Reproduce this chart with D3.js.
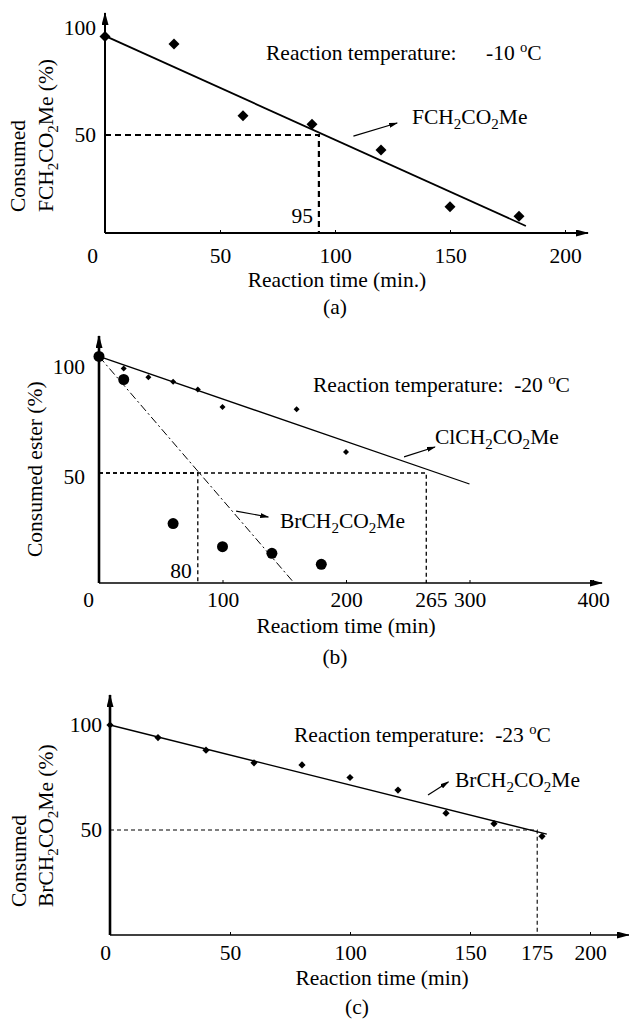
<!DOCTYPE html>
<html>
<head>
<meta charset="utf-8">
<script src="https://cdn.jsdelivr.net/npm/d3@7"></script>
<style>
  body { margin: 0; background: #fff; }
  svg text { font-family: 'Liberation Serif', 'Times New Roman', serif; fill: #000; white-space: pre; }
</style>
</head>
<body>
<svg id="chart" width="629" height="1024"></svg>
<script>
// (a) FCH2CO2Me at -10 C
const fTime = [0, 30, 60, 90, 120, 150, 180]
const fConsumed = [96, 92.5, 59, 55, 43, 16.5, 12]
const fFitTime = [0, 183]
const fFitValue = [96.3, 7.5]
const fHalfTime = 93
const fHalfLabel = '95'
const aTicksX = [0, 50, 100, 150, 200]
const aTicksY = [50, 100]

// (b) ClCH2CO2Me and BrCH2CO2Me at -20 C
const clTime = [0, 20, 40, 60, 80, 100, 160, 200]
const clConsumed = [103, 97.5, 93.5, 91.5, 88, 80, 79, 59.5]
const brTime = [0, 20, 60, 100, 140, 180]
const brConsumed = [103, 92.5, 27, 16.5, 13.5, 8.5]
const clFitTime = [0, 300]
const clFitValue = [103, 45]
const brFitTime = [0, 158]
const brFitValue = [103, 0]
const bHalfTimes = [80, 265]
const bTicksX = [0, 100, 200, 300, 400]
const bTicksY = [50, 100]

// (c) BrCH2CO2Me at -23 C
const cTime = [0, 20, 40, 60, 80, 100, 120, 140, 160, 180]
const cConsumed = [100, 94, 88, 82, 81, 75, 69, 58, 53, 47]
const cFitTime = [0, 182]
const cFitValue = [100, 48]
const cHalfTime = 178
const cHalfLabel = '175'
const cTicksX = [0, 50, 100, 150, 200]
const cTicksY = [50, 100]

const FS = 21.5
let svg = d3.select('#chart')
let defs = svg.append('defs')

function marker (id, w, h) {
  defs.append('marker')
    .attr('id', id)
    .attr('viewBox', `0 0 ${w} ${h}`)
    .attr('refX', w - 1).attr('refY', h / 2)
    .attr('markerWidth', w).attr('markerHeight', h)
    .attr('markerUnits', 'userSpaceOnUse')
    .attr('orient', 'auto')
    .append('path')
    .attr('d', `M0,0L${w},${h / 2}L0,${h}Z`)
    .attr('fill', '#000')
}
marker('axisHead', 13, 7)
marker('noteHead', 9, 5)

// square diamond, d3's own one is too tall
const diamond = {
  draw (ctx, size) {
    let r = Math.sqrt(size / 2)
    ctx.moveTo(0, -r)
    ctx.lineTo(r, 0)
    ctx.lineTo(0, r)
    ctx.lineTo(-r, 0)
    ctx.closePath()
  }
}

// text with _2 subscripts and ^o superscripts
function rich (text, str, size) {
  size = size || FS
  let shift = 0
  str.split(/(_\d|\^o)/).forEach(function (s) {
    if (!s) return
    if (s[0] === '_') {
      text.append('tspan').attr('dy', shift + 5).attr('font-size', size * 0.7).text(s[1])
      shift = -5
    } else if (s[0] === '^') {
      text.append('tspan').attr('dy', shift - 8).attr('font-size', size * 0.68).text(s[1])
      shift = 8
    } else {
      text.append('tspan').attr('dy', shift).text(s)
      shift = 0
    }
  })
  return text
}

function label (g, x, y, str, anchor) {
  let t = g.append('text')
    .attr('x', x).attr('y', y)
    .attr('font-size', FS)
    .attr('text-anchor', anchor || 'start')
  return rich(t, str)
}

function yLabel (g, x, y, str) {
  let t = g.append('text')
    .attr('transform', `translate(${x},${y}) rotate(-90)`)
    .attr('font-size', FS)
  return rich(t, str)
}

function axes (g, p) {
  let x0 = p.x(0)
  g.append('g')
    .attr('transform', `translate(0,${p.axisY})`)
    .call(d3.axisBottom(p.x).tickValues(p.ticksX).tickSizeInner(-3).tickSizeOuter(0))
    .call(a => a.select('.domain').remove())
    .call(a => a.selectAll('.tick line').attr('stroke-width', 1))
    .call(a => a.selectAll('.tick text')
      .attr('dy', null).attr('y', p.tickY)
      .attr('dx', d => d === 0 ? p.zeroDx : 0)
      .attr('font-size', FS).attr('font-family', null))

  g.append('g')
    .attr('transform', `translate(${x0},${p.yLabDy})`)
    .call(d3.axisLeft(p.y).tickValues(p.ticksY).tickSize(0).tickPadding(p.yPad))
    .call(a => a.select('.domain').remove())
    .call(a => a.selectAll('.tick text').attr('dy', '0.32em')
      .attr('font-size', FS).attr('font-family', null))

  g.append('line')
    .attr('x1', x0).attr('y1', p.axisY).attr('x2', p.xEnd).attr('y2', p.axisY)
    .attr('stroke', '#000').attr('stroke-width', p.xw)
    .attr('marker-end', 'url(#axisHead)')
  g.append('line')
    .attr('x1', x0).attr('y1', p.axisY).attr('x2', x0).attr('y2', p.yTop)
    .attr('stroke', '#000').attr('stroke-width', p.yw)
    .attr('marker-end', 'url(#axisHead)')
}

function fitLine (g, p, ts, vs, width, dash) {
  let line = d3.line().x(d => p.x(d[0])).y(d => p.y(d[1]))
  g.append('path')
    .attr('d', line(d3.zip(ts, vs)))
    .attr('fill', 'none').attr('stroke', '#000')
    .attr('stroke-width', width)
    .attr('stroke-dasharray', dash || null)
}

function guide (g, p, t, width, dash) {
  let line = d3.line()
  let pts = [[p.x(0), p.y(50)], [p.x(t), p.y(50)], [p.x(t), p.axisY]]
  g.append('path')
    .attr('d', line(pts))
    .attr('fill', 'none').attr('stroke', '#000')
    .attr('stroke-width', width).attr('stroke-dasharray', dash)
}

function points (g, p, ts, vs, type, size) {
  g.selectAll(null)
    .data(d3.zip(ts, vs))
    .enter().append('path')
    .attr('transform', d => `translate(${p.x(d[0])},${p.y(d[1])})`)
    .attr('d', d3.symbol(type, size))
    .attr('fill', '#000')
}

function note (g, p, from, to) {
  g.append('line')
    .attr('x1', p.x(from[0])).attr('y1', p.y(from[1]))
    .attr('x2', p.x(to[0])).attr('y2', p.y(to[1]))
    .attr('stroke', '#000').attr('stroke-width', 1.2)
    .attr('marker-end', 'url(#noteHead)')
}

// ---- (a)
let pa = {
  x: d3.scaleLinear().domain([0, 200]).range([105, 565]),
  y: d3.scaleLinear().domain([50, 100]).range([135, 28]),
  axisY: 233, xEnd: 588, yTop: 13, ticksX: aTicksX, ticksY: aTicksY,
  tickY: 30, zeroDx: -13, yPad: 9, yLabDy: 0, xw: 2, yw: 2
}
let ga = svg.append('g')
guide(ga, pa, fHalfTime, 2.2, '6,4')
axes(ga, pa)
fitLine(ga, pa, fFitTime, fFitValue, 1.8)
points(ga, pa, fTime, fConsumed, diamond, 60)
note(ga, pa, [108, 49.5], [127, 55.6])
label(ga, 266, 60, 'Reaction temperature:')
label(ga, 486, 60, '-10 ^oC')
label(ga, 412, 124, 'FCH_2CO_2Me')
label(ga, pa.x(fHalfTime) - 6, 223, fHalfLabel, 'end')
label(ga, 337, 287, 'Reaction time (min.)', 'middle')
label(ga, 335, 314, '(a)', 'middle')
yLabel(ga, 25, 212, 'Consumed')
yLabel(ga, 53, 212, 'FCH_2CO_2Me (%)')

// ---- (b)
let pb = {
  x: d3.scaleLinear().domain([0, 400]).range([99, 593]),
  y: d3.scaleLinear().domain([0, 100]).range([583, 363]),
  axisY: 583, xEnd: 602, yTop: 336, ticksX: bTicksX, ticksY: bTicksY,
  tickY: 24, zeroDx: -11, yPad: 14, yLabDy: 4, xw: 1.5, yw: 2.6
}
let gb = svg.append('g')
bHalfTimes.forEach(t => guide(gb, pb, t, 1.3, '4,3'))
axes(gb, pb)
fitLine(gb, pb, clFitTime, clFitValue, 1.3)
fitLine(gb, pb, brFitTime, brFitValue, 1, '8,3,2,3')
points(gb, pb, brTime, brConsumed, d3.symbolCircle, 95)
points(gb, pb, clTime, clConsumed, diamond, 18)
note(gb, pb, [247, 57.3], [272, 61.8])
note(gb, pb, [111, 32.7], [137, 30])
label(gb, 313, 392, 'Reaction temperature:  -20 ^oC')
label(gb, 435, 444, 'ClCH_2CO_2Me')
label(gb, 280, 528, 'BrCH_2CO_2Me')
label(gb, pb.x(bHalfTimes[0]) - 6, 578, String(bHalfTimes[0]), 'end')
label(gb, pb.x(bHalfTimes[1]) + 5, pb.axisY + 24, String(bHalfTimes[1]), 'middle')
label(gb, 346, 633, 'Reactiom time (min)', 'middle')
label(gb, 335, 664, '(b)', 'middle')
yLabel(gb, 42, 557, 'Consumed ester (%)')

// ---- (c)
let pc = {
  x: d3.scaleLinear().domain([0, 200]).range([110, 590]),
  y: d3.scaleLinear().domain([0, 100]).range([935, 725]),
  axisY: 935, xEnd: 629, yTop: 695, ticksX: cTicksX, ticksY: cTicksY,
  tickY: 25, zeroDx: -5, yPad: 8, yLabDy: 0, xw: 1.5, yw: 2.6
}
let gc = svg.append('g')
guide(gc, pc, cHalfTime, 1.1, '4,3')
axes(gc, pc)
fitLine(gc, pc, cFitTime, cFitValue, 1.3)
points(gc, pc, cTime, cConsumed, diamond, 26)
note(gc, pc, [132.5, 66.7], [141, 72.9])
label(gc, 294, 742, 'Reaction temperature:  -23 ^oC')
label(gc, 455, 787, 'BrCH_2CO_2Me')
label(gc, pc.x(cHalfTime), pc.axisY + 25, cHalfLabel, 'middle')
label(gc, 382, 985, 'Reaction time (min)', 'middle')
label(gc, 357, 1014, '(c)', 'middle')
yLabel(gc, 26, 907, 'Consumed')
yLabel(gc, 53, 907, 'BrCH_2CO_2Me (%)')
</script>
</body>
</html>
